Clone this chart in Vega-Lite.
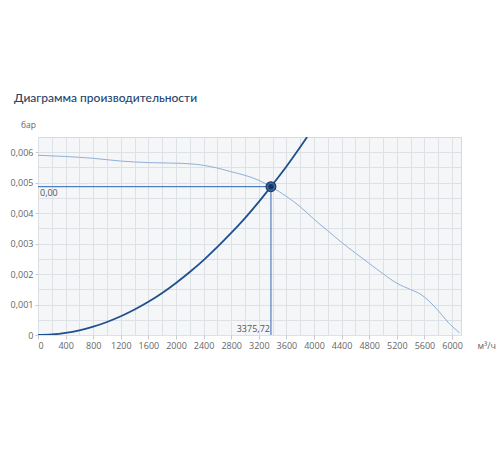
{
  "$schema": "https://vega.github.io/schema/vega-lite/v6.json",
  "autosize": "none",
  "width": 423,
  "height": 198,
  "padding": {"left": 38, "top": 137, "right": 39, "bottom": 115},
  "background": "white",
  "config": {
    "font": "Open Sans",
    "view": {"stroke": "#d6dae0", "fill": "#f5f6f8"}
  },
  "title": {
    "text": "Диаграмма производительности",
    "anchor": "start",
    "frame": "group",
    "dx": -24,
    "offset": 6,
    "baseline": "alphabetic",
    "fontSize": 12,
    "fontWeight": 500,
    "color": "#27456b",
    "font": "Lato"
  },
  "datasets": {
    "fan": [
      {"q": 0, "p": 0.0059},
      {"q": 400, "p": 0.00586},
      {"q": 800, "p": 0.0058},
      {"q": 1200, "p": 0.00571},
      {"q": 1600, "p": 0.00566},
      {"q": 2000, "p": 0.00564},
      {"q": 2200, "p": 0.00562},
      {"q": 2400, "p": 0.00557},
      {"q": 2600, "p": 0.00548},
      {"q": 2800, "p": 0.00536},
      {"q": 3000, "p": 0.00524},
      {"q": 3200, "p": 0.00508},
      {"q": 3376, "p": 0.00487},
      {"q": 3600, "p": 0.00455},
      {"q": 3800, "p": 0.00421},
      {"q": 4000, "p": 0.0038},
      {"q": 4200, "p": 0.00342},
      {"q": 4400, "p": 0.00304},
      {"q": 4600, "p": 0.00269},
      {"q": 4800, "p": 0.00235},
      {"q": 5000, "p": 0.00201},
      {"q": 5200, "p": 0.0017},
      {"q": 5400, "p": 0.00149},
      {"q": 5550, "p": 0.00133},
      {"q": 5650, "p": 0.00115},
      {"q": 5800, "p": 0.0008},
      {"q": 5950, "p": 0.0004},
      {"q": 6110, "p": 0.00007}
    ],
    "system": [
      {"q": 0, "p": 0},
      {"q": 200, "p": 0.0000171},
      {"q": 400, "p": 0.0000683},
      {"q": 600, "p": 0.000154},
      {"q": 800, "p": 0.000273},
      {"q": 1000, "p": 0.000427},
      {"q": 1200, "p": 0.000615},
      {"q": 1400, "p": 0.000837},
      {"q": 1600, "p": 0.00109},
      {"q": 1800, "p": 0.00138},
      {"q": 2000, "p": 0.00171},
      {"q": 2200, "p": 0.00207},
      {"q": 2400, "p": 0.00246},
      {"q": 2600, "p": 0.00289},
      {"q": 2800, "p": 0.00335},
      {"q": 3000, "p": 0.00384},
      {"q": 3200, "p": 0.00437},
      {"q": 3376, "p": 0.00487},
      {"q": 3600, "p": 0.00553},
      {"q": 3800, "p": 0.00617},
      {"q": 3900, "p": 0.0065}
    ],
    "hline": [{"q": 0, "q2": 3375.72, "p": 0.00487}],
    "vline": [{"q": 3375.72, "p": 0, "p2": 0.00487}],
    "op": [{"q": 3375.72, "p": 0.00487}],
    "lblP": [{"q": 0, "p": 0.00487, "t": "0,00"}],
    "lblQ": [{"q": 3375.72, "p": 0, "t": "3375,72"}]
  },
  "encoding": {
    "x": {
      "field": "q",
      "type": "quantitative",
      "scale": {"domain": [0, 6130], "nice": false, "zero": false},
      "axis": {
        "values": [0,200,400,600,800,1000,1200,1400,1600,1800,2000,2200,2400,2600,2800,3000,3200,3400,3600,3800,4000,4200,4400,4600,4800,5000,5200,5400,5600,5800,6000],
        "labelExpr": "datum.value % 400 == 0 ? '' + datum.value : ''",
        "domain": false,
        "grid": true,
        "gridColor": "#dde0e5",
        "gridWidth": 1,
        "ticks": true,
        "tickColor": "#c8ccd2",
        "tickSize": 4,
        "tickOpacity": {"condition": {"test": "datum.value % 400 == 0", "value": 1}, "value": 0},
        "labelPadding": 2,
        "labelFontSize": 9,
        "labelColor": "#666666",
        "labelFont": "Open Sans",
        "title": "м³/ч",
        "titleFont": "Open Sans",
        "titleFontSize": 9,
        "titleFontWeight": "normal",
        "titleColor": "#666666",
        "titleX": 439,
        "titleY": 13,
        "titleAlign": "left",
        "titleBaseline": "alphabetic"
      }
    },
    "y": {
      "field": "p",
      "type": "quantitative",
      "scale": {"domain": [0, 0.0065], "nice": false, "zero": false},
      "axis": {
        "values": [0,0.0005,0.001,0.0015,0.002,0.0025,0.003,0.0035,0.004,0.0045,0.005,0.0055,0.006],
        "labelExpr": "round(datum.value*2000) % 2 == 0 ? (datum.value == 0 ? '0' : replace(format(datum.value, '.3f'), '.', ',')) : ''",
        "domain": false,
        "grid": true,
        "gridColor": "#dde0e5",
        "gridWidth": 1,
        "ticks": true,
        "tickColor": "#c8ccd2",
        "tickSize": 3,
        "tickOpacity": {"condition": {"test": "round(datum.value*2000) % 2 == 0", "value": 1}, "value": 0},
        "labelPadding": 2,
        "labelFontSize": 9,
        "labelColor": "#666666",
        "labelFont": "Open Sans",
        "title": "бар",
        "titleFont": "Open Sans",
        "titleFontSize": 8.5,
        "titleFontWeight": "normal",
        "titleColor": "#666666",
        "titleAngle": 0,
        "titleX": -10,
        "titleY": -8,
        "titleAlign": "center",
        "titleBaseline": "bottom"
      }
    }
  },
  "layer": [
    {
      "data": {"name": "fan"},
      "mark": {"type": "line", "color": "#8fb0d6", "strokeWidth": 1, "interpolate": "monotone", "clip": true}
    },
    {
      "data": {"name": "hline"},
      "mark": {"type": "rule", "color": "#4f7fbd", "strokeWidth": 1.2},
      "encoding": {"x2": {"field": "q2"}}
    },
    {
      "data": {"name": "vline"},
      "mark": {"type": "rule", "color": "#4f7fbd", "strokeWidth": 1.2},
      "encoding": {"y2": {"field": "p2"}}
    },
    {
      "data": {"name": "system"},
      "mark": {"type": "line", "color": "#1f4f8c", "strokeWidth": 1.8, "interpolate": "monotone", "clip": true}
    },
    {
      "data": {"name": "op"},
      "mark": {"type": "point", "shape": "circle", "filled": true, "size": 95, "fill": "#3a6aa6", "stroke": "#1b3d6b", "strokeWidth": 1.2, "opacity": 1}
    },
    {
      "data": {"name": "op"},
      "mark": {"type": "point", "shape": "circle", "filled": true, "size": 30, "fill": "#17375f", "opacity": 1}
    },
    {
      "data": {"name": "lblP"},
      "mark": {"type": "text", "align": "left", "baseline": "top", "dx": 2, "dy": 2, "fontSize": 9, "color": "#555555", "font": "Open Sans"},
      "encoding": {"text": {"field": "t"}}
    },
    {
      "data": {"name": "lblQ"},
      "mark": {"type": "text", "align": "right", "baseline": "bottom", "dx": -1, "dy": -1, "fontSize": 9, "color": "#555555", "font": "Open Sans"},
      "encoding": {"text": {"field": "t"}}
    }
  ]
}
